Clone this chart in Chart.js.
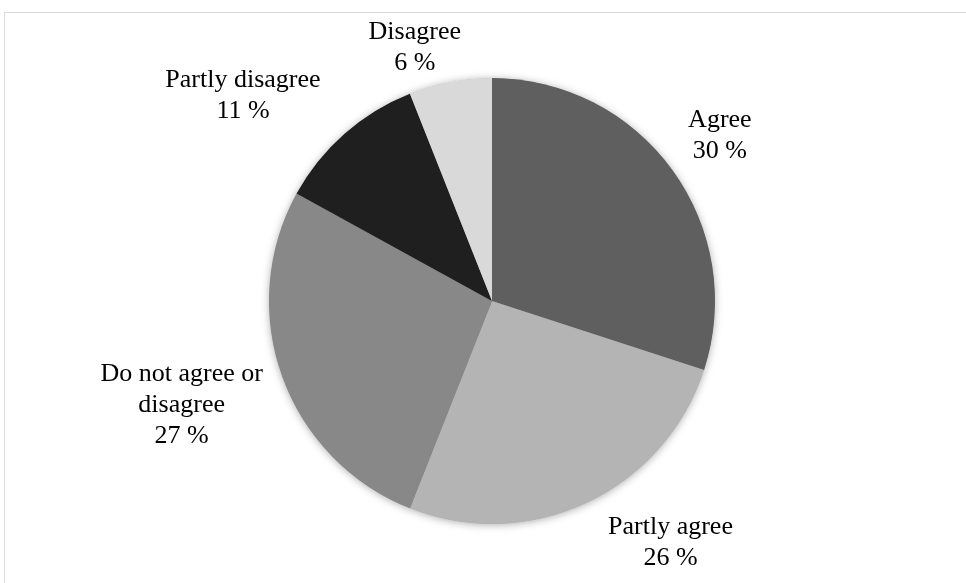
<!DOCTYPE html>
<html lang="en">
<head>
    <meta charset="UTF-8">
    <title>Survey answers</title>
    <script src="https://cdn.jsdelivr.net/npm/chart.js"></script>
    <style>
        html, body {
            margin: 0;
            padding: 0;
            background: #ffffff;
            overflow: hidden;
        }
        .wrap {
            position: relative;
            width: 966px;
            height: 583px;
        }
        .frame {
            position: absolute;
            left: 4px;
            top: 12px;
            width: 2000px;
            height: 2000px;
            border: 1.5px solid #d9d9d9;
        }
        canvas {
            position: absolute;
            left: 0;
            top: 0;
        }
    </style>
</head>
<body>
    <div class="wrap">
        <div class="frame"></div>
        <canvas id="pieChart" width="966" height="583"></canvas>
    </div>
    <script>
        // Answers, clockwise from 12 o'clock
        const categories = ['Agree', 'Partly agree', 'Do not agree or disagree', 'Partly disagree', 'Disagree'];
        const shares = [30, 26, 27, 11, 6];

        const sliceColors = ['#5f5f5f', '#b4b4b4', '#888888', '#1f1f1f', '#d9d9d9'];
        // small hand nudges so the labels sit where the original put them
        const labelNudge = [[6, 4], [16, -2], [-8, -22], [-16, 2], [13, 9]];

        const labelFont = '26px "Liberation Serif", "Times New Roman", serif';
        const lineHeight = 31;

        function wrapText(ctx, text, maxWidth) {
            const words = text.split(' ');
            const lines = [];
            let line = '';
            words.forEach(function(w) {
                const test = line ? line + ' ' + w : w;
                if (line && ctx.measureText(test).width > maxWidth) {
                    lines.push(line);
                    line = w;
                } else {
                    line = test;
                }
            });
            if (line) lines.push(line);
            return lines;
        }

        // soft shadow under the whole pie
        const pieShadow = {
            id: 'pieShadow',
            beforeDatasetsDraw(chart) {
                const arc = chart.getDatasetMeta(0).data[0];
                if (!arc) return;
                const ctx = chart.ctx;
                ctx.save();
                ctx.shadowColor = 'rgba(0, 0, 0, 0.35)';
                ctx.shadowBlur = 9;
                ctx.shadowOffsetX = 0;
                ctx.shadowOffsetY = 1;
                ctx.fillStyle = '#888888';
                ctx.beginPath();
                ctx.arc(arc.x, arc.y, arc.outerRadius - 0.5, 0, Math.PI * 2);
                ctx.fill();
                ctx.restore();
            }
        };

        // category + percent labels outside each slice
        const outsideLabels = {
            id: 'outsideLabels',
            afterDatasetsDraw(chart) {
                const ctx = chart.ctx;
                const meta = chart.getDatasetMeta(0);
                ctx.save();
                ctx.font = labelFont;
                ctx.fillStyle = '#000000';
                ctx.textAlign = 'center';
                ctx.textBaseline = 'middle';
                meta.data.forEach(function(arc, i) {
                    const mid = (arc.startAngle + arc.endAngle) / 2;
                    const ux = Math.cos(mid);
                    const uy = Math.sin(mid);
                    const r = arc.outerRadius + 12;
                    const ax = arc.x + ux * r;
                    const ay = arc.y + uy * r;
                    const lines = wrapText(ctx, categories[i], 175);
                    lines.push(shares[i] + ' %');
                    let w = 0;
                    lines.forEach(function(l) { w = Math.max(w, ctx.measureText(l).width); });
                    const h = lines.length * lineHeight;
                    const cx = ax + Math.sign(ux) * w / 2 + labelNudge[i][0];
                    const cy = ay + Math.sign(uy) * h / 2 + labelNudge[i][1];
                    lines.forEach(function(l, k) {
                        ctx.fillText(l, cx, cy - h / 2 + lineHeight * (k + 0.5));
                    });
                });
                ctx.restore();
            }
        };

        new Chart(document.getElementById('pieChart'), {
            type: 'pie',
            data: {
                labels: categories,
                datasets: [{
                    data: shares,
                    backgroundColor: sliceColors,
                    borderWidth: 0
                }]
            },
            plugins: [pieShadow, outsideLabels],
            options: {
                responsive: false,
                animation: false,
                devicePixelRatio: 1,
                layout: {
                    padding: { left: 18, right: 0, top: 78, bottom: 59 }
                },
                plugins: {
                    legend: { display: false },
                    tooltip: { enabled: false }
                }
            }
        });
    </script>
</body>
</html>
